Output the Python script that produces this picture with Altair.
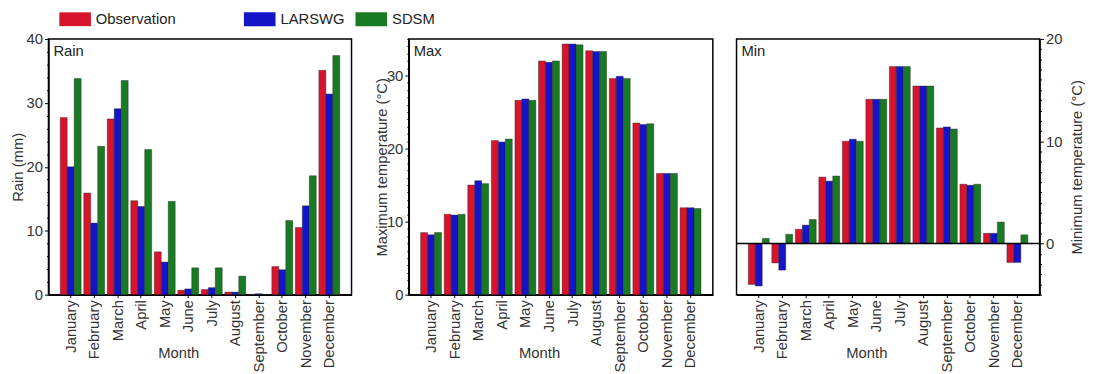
import altair as alt
import pandas as pd

months = ["January", "February", "March", "April", "May", "June", "July",
          "August", "September", "October", "November", "December"]
series = ["Observation", "LARSWG", "SDSM"]
colors = ["#d8142c", "#1414c8", "#187a22"]

rain_obs = [27.7, 15.9, 27.5, 14.7, 6.7, 0.7, 0.8, 0.4, 0.05, 4.4, 10.5, 35.1]
rain_lars = [20.0, 11.2, 29.1, 13.8, 5.1, 0.9, 1.1, 0.4, 0.15, 3.9, 13.9, 31.4]
rain_sdsm = [33.8, 23.2, 33.5, 22.7, 14.6, 4.2, 4.2, 2.9, 0.05, 11.6, 18.6, 37.4]

tmax_obs = [8.5, 11.0, 15.0, 21.1, 26.6, 32.0, 34.3, 33.4, 29.6, 23.5, 16.6, 11.9]
tmax_lars = [8.2, 10.9, 15.6, 20.9, 26.8, 31.8, 34.3, 33.3, 29.9, 23.3, 16.6, 11.9]
tmax_sdsm = [8.5, 11.0, 15.2, 21.3, 26.6, 32.0, 34.2, 33.3, 29.6, 23.4, 16.6, 11.8]

tmin_obs = [-4.0, -1.9, 1.4, 6.5, 10.0, 14.1, 17.3, 15.4, 11.3, 5.8, 1.0, -1.85]
tmin_lars = [-4.15, -2.6, 1.8, 6.1, 10.2, 14.1, 17.3, 15.4, 11.4, 5.7, 1.0, -1.85]
tmin_sdsm = [0.5, 0.9, 2.35, 6.6, 10.0, 14.1, 17.3, 15.4, 11.2, 5.8, 2.1, 0.85]

FONT = "Liberation Sans"
H = 259


def long_df(obs, lars, sdsm):
    rows = []
    for s, vals in zip(series, [obs, lars, sdsm]):
        for m, v in zip(months, vals):
            rows.append({"month": m, "series": s, "value": v})
    return pd.DataFrame(rows)


def make_legend(values, x, col_pad):
    return alt.Legend(
        orient="none", legendX=x, legendY=-28, direction="horizontal", title=None,
        values=values,
        symbolType="M-2,-0.875H2V0.875H-2Z", symbolSize=256, symbolStrokeWidth=0,
        symbolOpacity=1,
        labelOffset=13, columnPadding=col_pad, labelFontSize=15, labelFont=FONT,
        labelColor="#222", padding=0,
    )


legend_obs = make_legend(["Observation"], 19, 5)
legend_models = make_legend(series[1:], 206, 10)


def panel(df, name, domain, major, minor, ytitle, orient, width, title_x, with_legend):
    base = alt.Chart(df)
    xenc = alt.X(
        "month:N", sort=months,
        scale=alt.Scale(paddingInner=0.11, paddingOuter=0.5),
        axis=alt.Axis(title="Month", labelAngle=270, titleX=width / 2 - 22, titleY=52,
                      tickSize=3, labelPadding=2),
    )
    bars = base.mark_bar(stroke="#222", strokeWidth=0.4).encode(
        x=xenc,
        xOffset=alt.XOffset("series:N", sort=series,
                            scale=alt.Scale(domain=series, paddingInner=0, paddingOuter=0)),
        y=alt.Y("value:Q", scale=alt.Scale(domain=domain, nice=False),
                axis=alt.Axis(values=major, orient=orient, title=ytitle, tickSize=4,
                              labelPadding=2, titleX=title_x, titleBaseline="middle",
                              titleAngle=270)),
        color=alt.Color("series:N", sort=series,
                        scale=alt.Scale(domain=series, range=colors), legend=legend_obs),
    )
    minor_ax = base.mark_rule(opacity=0).encode(
        y=alt.Y("value:Q", axis=alt.Axis(values=minor, orient=orient, labels=False,
                                         domain=False, title=None, tickSize=2)),
    )
    label = alt.Chart(pd.DataFrame({"t": [name]})).mark_text(
        align="left", baseline="top", fontSize=15, font=FONT, color="#222"
    ).encode(x=alt.value(5), y=alt.value(5), text="t:N")
    layers = [bars, minor_ax]
    if with_legend:
        # empty layer that only carries the second half of the legend
        key = alt.Chart(pd.DataFrame({"series": series[1:]})).transform_filter(
            "false"
        ).mark_point(filled=True, opacity=1).encode(
            fill=alt.Fill("series:N", scale=alt.Scale(domain=series[1:], range=colors[1:]),
                          legend=legend_models)
        )
        layers.append(key)
    if domain[0] < 0:
        zero = alt.Chart(pd.DataFrame({"z": [0]})).mark_rule(
            color="black", strokeWidth=1.5
        ).encode(y=alt.Y("z:Q", axis=None))
        layers.append(zero)
    layers.append(label)
    return alt.layer(*layers).resolve_axis(y="independent").properties(width=width, height=H)


p1 = panel(long_df(rain_obs, rain_lars, rain_sdsm), "Rain", [0, 40], [0, 10, 20, 30, 40],
           [v for v in range(0, 41, 2) if v % 10], "Rain (mm)", "left", 307, -31, True)
p2 = panel(long_df(tmax_obs, tmax_lars, tmax_sdsm), "Max", [0, 35], [0, 10, 20, 30],
           [v for v in range(0, 36) if v % 10], "Maximum temperature (°C)", "left", 308, -28, False)
p3 = panel(long_df(tmin_obs, tmin_lars, tmin_sdsm), "Min", [-5, 20], [0, 10, 20],
           [v for v in range(-5, 21) if v % 10], "Minimum temperature (°C)", "right", 307, 37, False)

chart = alt.hconcat(p1, p2, p3, spacing=21).properties(
    padding={"left": 2, "top": 1, "right": 0, "bottom": 0}
).configure_view(
    stroke="black", strokeWidth=1.5
).configure_axis(
    grid=False, domainColor="black", domainWidth=1.5, tickColor="black", tickWidth=1,
    labelColor="#333", labelFontSize=15, labelFont=FONT, titleFont=FONT,
    titleFontSize=15, titleFontWeight="normal", titleColor="#333",
)

chart.save("out.html", embed_options={"renderer": "svg", "actions": False})
